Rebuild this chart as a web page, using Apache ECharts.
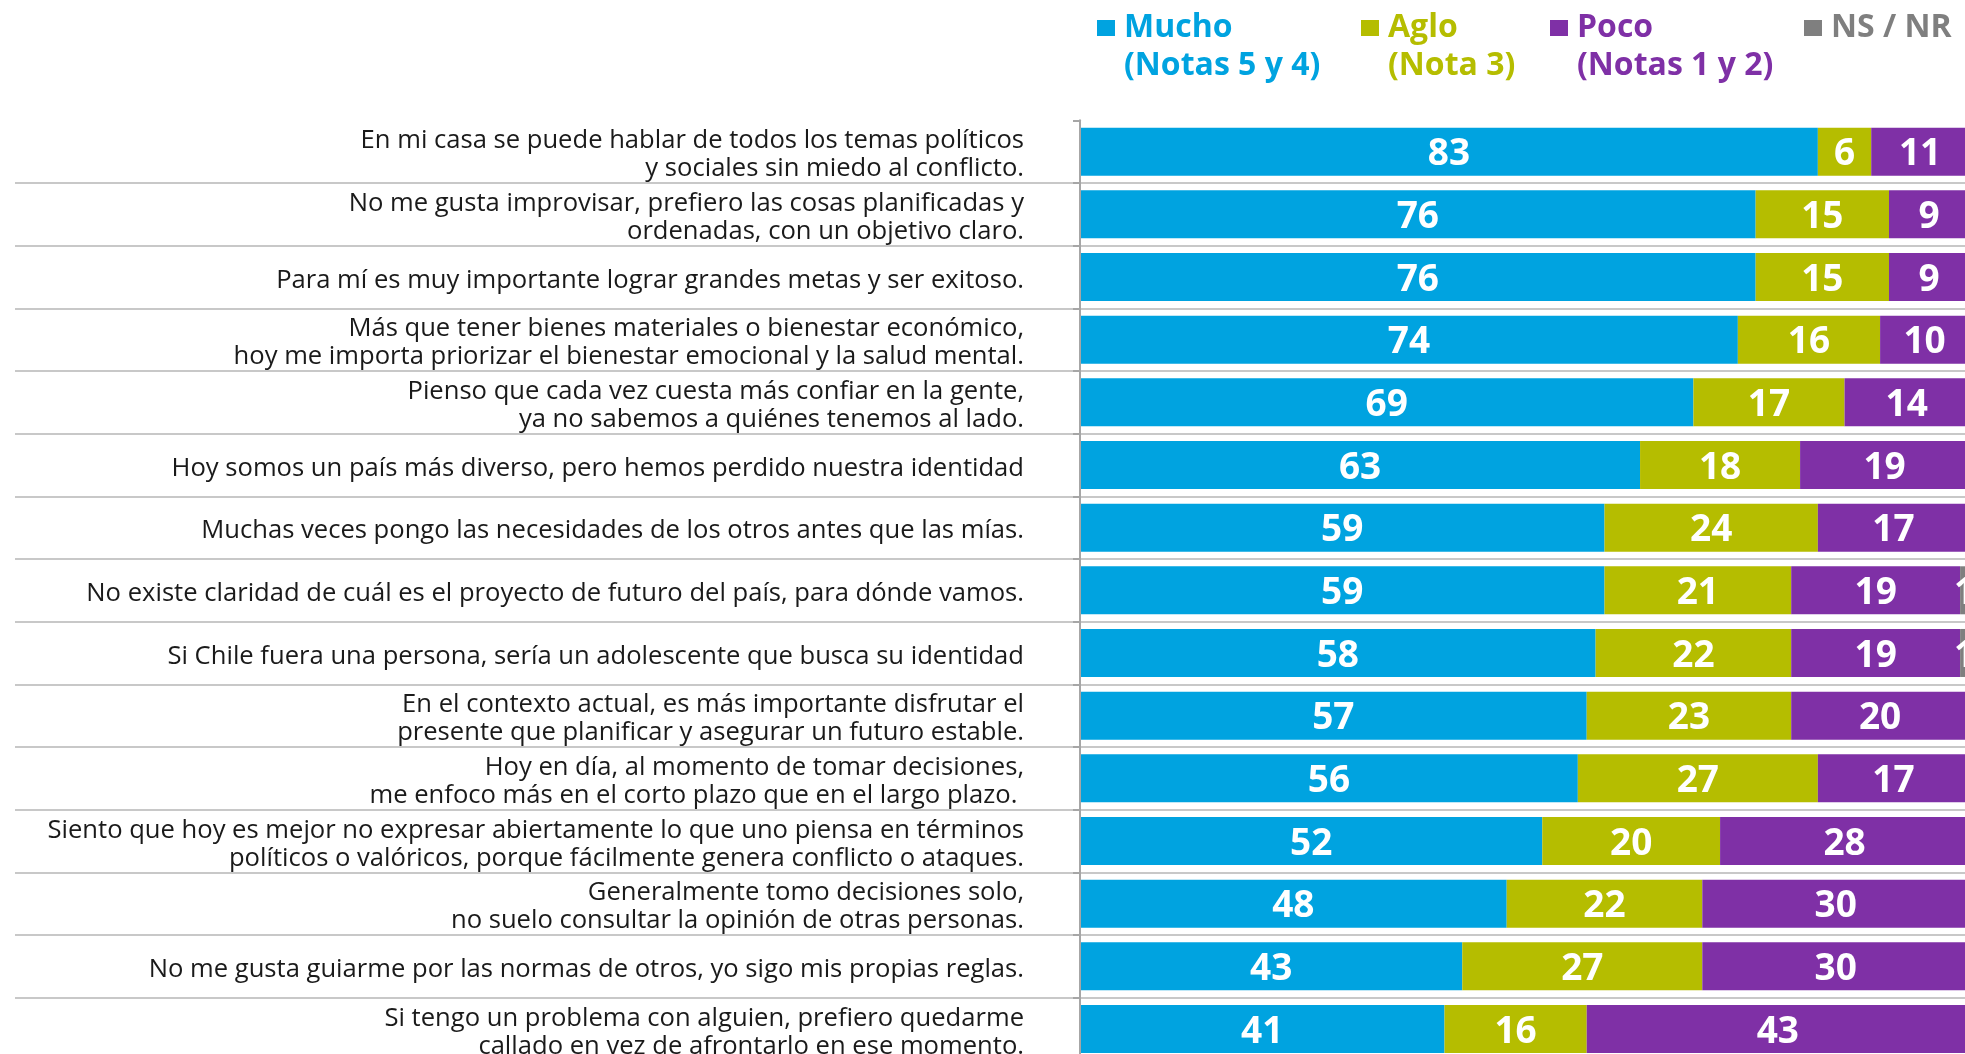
<!DOCTYPE html>
<html lang="es">

<head>
  <meta charset="UTF-8">
  <title>Barras apiladas - afirmaciones</title>
  <script src="https://cdn.jsdelivr.net/npm/echarts@6/dist/echarts.min.js"></script>
  <style>
    html, body { margin: 0; padding: 0; background: #fff; overflow: hidden; }
    /* el grafico original se corta por la derecha y por abajo */
    #chart { width: 1980px; height: 1070px; }
  </style>
</head>

<body>
  <div id="chart"></div>
</body>

</html>
<script type="text/javascript">
  // afirmaciones (de arriba hacia abajo)
  let categories = [
    'En mi casa se puede hablar de todos los temas políticos\ny sociales sin miedo al conflicto.',
    'No me gusta improvisar, prefiero las cosas planificadas y\nordenadas, con un objetivo claro.',
    'Para mí es muy importante lograr grandes metas y ser exitoso.',
    'Más que tener bienes materiales o bienestar económico,\nhoy me importa priorizar el bienestar emocional y la salud mental.',
    'Pienso que cada vez cuesta más confiar en la gente,\nya no sabemos a quiénes tenemos al lado.',
    'Hoy somos un país más diverso, pero hemos perdido nuestra identidad',
    'Muchas veces pongo las necesidades de los otros antes que las mías.',
    'No existe claridad de cuál es el proyecto de futuro del país, para dónde vamos.',
    'Si Chile fuera una persona, sería un adolescente que busca su identidad',
    'En el contexto actual, es más importante disfrutar el\npresente que planificar y asegurar un futuro estable.',
    'Hoy en día, al momento de tomar decisiones,\nme enfoco más en el corto plazo que en el largo plazo. ',
    'Siento que hoy es mejor no expresar abiertamente lo que uno piensa en términos\npolíticos o valóricos, porque fácilmente genera conflicto o ataques.',
    'Generalmente tomo decisiones solo,\nno suelo consultar la opinión de otras personas.',
    'No me gusta guiarme por las normas de otros, yo sigo mis propias reglas.',
    'Si tengo un problema con alguien, prefiero quedarme\ncallado en vez de afrontarlo en ese momento.'
  ];
  let mucho = [83, 76, 76, 74, 69, 63, 59, 59, 58, 57, 56, 52, 48, 43, 41];
  let aglo = [6, 15, 15, 16, 17, 18, 24, 21, 22, 23, 27, 20, 22, 27, 16];
  let poco = [11, 9, 9, 10, 14, 19, 17, 19, 19, 20, 17, 28, 30, 30, 43];
  let nsnr = [0, 0, 0, 0, 0, 0, 0, 1, 1, 0, 0, 0, 0, 0, 0];

  let seriesNames = ['Mucho', 'Aglo', 'Poco', 'NS / NR'];
  let seriesSub = ['(Notas 5 y 4)', '(Nota 3)', '(Notas 1 y 2)', ' '];
  let colors = ['#00a3e0', '#b5bd00', '#7f30a6', '#7f7f7f'];

  let chart = echarts.init(document.getElementById('chart'));

  // icono cuadrado alineado con la primera linea del texto (2 lineas de 38px)
  let LH = 38;
  let iconPath = 'path://M0,11L18,11L18,27L0,27Z M0,0L0.01,0 M22,76L22.01,76';
  let legendLeft = [1097, 1361, 1550, 1804];
  let legends = seriesNames.map(function (name, i) {
    return {
      data: [name],
      left: legendLeft[i],
      top: 9,
      padding: 0,
      icon: iconPath,
      itemWidth: 22,
      itemHeight: 2 * LH,
      selectedMode: false,
      formatter: function (n) { return n + '\n' + seriesSub[i]; },
      textStyle: {
        color: colors[i],
        fontSize: 32,
        fontWeight: 'bold',
        fontFamily: 'Open Sans',
        lineHeight: LH
      }
    };
  });

  let valueLabel = {
    show: true,
    position: 'inside',
    offset: [0, 3],
    color: '#fff',
    fontSize: 37,
    fontWeight: 'bold',
    fontFamily: 'Open Sans',
    formatter: function (p) { return p.value > 0 ? p.value : ''; }
  };

  let allData = [mucho, aglo, poco, nsnr];
  let series = allData.map(function (d, i) {
    return {
      name: seriesNames[i],
      type: 'bar',
      stack: 'total',
      barWidth: 48,
      xAxisIndex: 0,
      yAxisIndex: 0,
      itemStyle: { color: colors[i] },
      label: valueLabel,
      data: d
    };
  });

  let option = {
    animation: false,
    legend: legends,
    grid: [
      { left: 1080, top: 120.3, width: 889, height: 940 },   // barras
      { left: 15, top: 120.3, width: 1954, height: 940 }     // lineas separadoras
    ],
    xAxis: [
      { type: 'value', gridIndex: 0, min: 0, max: 100, show: false },
      { type: 'value', gridIndex: 1, min: 0, max: 1, show: false }
    ],
    yAxis: [
      {
        type: 'category',
        gridIndex: 0,
        inverse: true,
        data: categories,
        axisLine: { lineStyle: { color: '#a6a6a6', width: 2 } },
        axisTick: { show: true, length: 7, lineStyle: { color: '#a6a6a6', width: 2 } },
        axisLabel: {
          interval: 0,
          margin: 56,
          color: '#1a1a1a',
          fontSize: 25.6,
          fontFamily: 'Open Sans',
          lineHeight: 28,
          // linea vacia arriba para bajar un poco el texto
          formatter: function (v) { return '{s|}\n' + v; },
          rich: { s: { lineHeight: 7 } }
        },
        splitLine: { show: false },
        z: 3
      },
      {
        type: 'value',
        gridIndex: 1,
        inverse: true,
        min: 0,
        max: 15,
        interval: 1,
        axisLine: { show: false },
        axisTick: { show: false },
        axisLabel: { show: false },
        splitLine: { show: true, showMinLine: false, lineStyle: { color: '#c8c8c8', width: 2 } }
      }
    ],
    series: series
  };
  chart.setOption(option);
</script>
